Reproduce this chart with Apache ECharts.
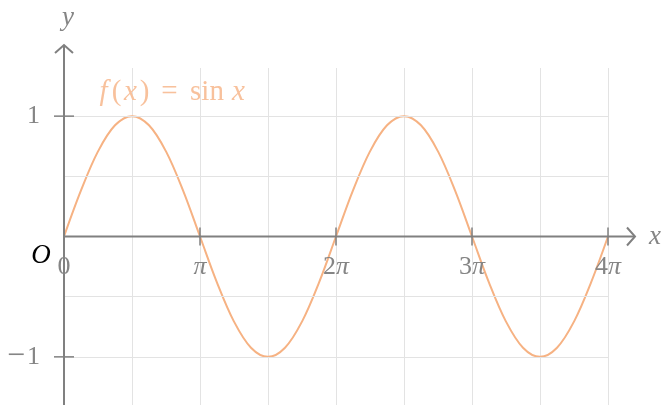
<!DOCTYPE html>
<html><head><meta charset="utf-8">
<script src="https://cdn.jsdelivr.net/npm/echarts@6/dist/echarts.min.js"></script>
<style>html,body{margin:0;padding:0;background:#fff}#c{width:662px;height:405px}</style>
</head><body><div id="c"></div>
<script>
// x in units of pi
const xPi = [0,0.125,0.25,0.375,0.5,0.625,0.75,0.875,1,1.125,1.25,1.375,1.5,1.625,1.75,1.875,2,
  2.125,2.25,2.375,2.5,2.625,2.75,2.875,3,3.125,3.25,3.375,3.5,3.625,3.75,3.875,4];
const yVals = [0,0.383,0.707,0.924,1,0.924,0.707,0.383,0,-0.383,-0.707,-0.924,-1,-0.924,-0.707,-0.383,0,
  0.383,0.707,0.924,1,0.924,0.707,0.383,0,-0.383,-0.707,-0.924,-1,-0.924,-0.707,-0.383,0];
const xTickVals = [1,2,3,4];
const xLabelVals = [0,1,2,3,4];
const xLabelNums = ['0','','2','3','4'];
const yTickVals = [1,-1];
const yTickLabels = ['1','\u22121'];
const yGridVals = [-1,-0.5,0,0.5,1];

const FONT = '"Liberation Serif", "DejaVu Serif", serif';
const AX = '#808080', GRID = '#e3e3e3', LINE = '#f6b283', TXT = '#858585';

const chart = echarts.init(document.getElementById('c'), null, {renderer:'canvas'});
chart.setOption({
  animation:false,
  grid:{left:64,right:54,top:68,bottom:0,containLabel:false},
  xAxis:{type:'value',min:0,max:4,interval:0.5,
    axisLine:{show:false},axisTick:{show:false},axisLabel:{show:false},
    splitLine:{show:true,lineStyle:{color:GRID,width:1}}},
  yAxis:{type:'value',min:-1.4,max:1.4,
    axisLine:{show:false},axisTick:{show:false},axisLabel:{show:false},
    splitLine:{show:false}},
  series:[
    {type:'line',data:[],z:1,silent:true,
      markLine:{silent:true,symbol:'none',label:{show:false},animation:false,
        lineStyle:{color:GRID,width:1,type:'solid'},
        data:yGridVals.map(v=>({yAxis:v}))}},
    {type:'line',z:3,data:xPi.map((x,i)=>[x,yVals[i]]),smooth:0.35,showSymbol:false,
      lineStyle:{color:LINE,width:2},silent:true}
  ]
});

function px(x,y){return chart.convertToPixel({gridIndex:0},[x,y]);}
const o = px(0,0);
const xEnd = px(4,0);
const yTop = px(0,1.4);
const g = [];
const axLine = {stroke:AX,lineWidth:2,fill:null};
// x axis
g.push({type:'line',shape:{x1:o[0],y1:o[1],x2:xEnd[0]+27,y2:o[1]},style:axLine,z:10});
g.push({type:'polyline',shape:{points:[[xEnd[0]+19,o[1]-9],[xEnd[0]+27,o[1]],[xEnd[0]+19,o[1]+9]]},style:axLine,z:10});
// y axis
const yBot = px(0,-1.4);
g.push({type:'line',shape:{x1:o[0],y1:yBot[1],x2:o[0],y2:yTop[1]-23},style:axLine,z:10});
g.push({type:'polyline',shape:{points:[[o[0]-9,yTop[1]-15],[o[0],yTop[1]-23],[o[0]+9,yTop[1]-15]]},style:axLine,z:10});
// ticks
xTickVals.forEach(v=>{const p=px(v,0);
  g.push({type:'line',shape:{x1:p[0],y1:p[1]-9,x2:p[0],y2:p[1]+9},style:{stroke:AX,lineWidth:1.5},z:10});});
yTickVals.forEach(v=>{const p=px(0,v);
  g.push({type:'line',shape:{x1:p[0]-10,y1:p[1],x2:p[0]+10,y2:p[1]},style:{stroke:AX,lineWidth:1.5},z:10});});
// labels
const rich = {n:{fontFamily:FONT,fontSize:26,fill:TXT},p:{fontFamily:FONT,fontSize:26,fontStyle:'italic',fill:TXT},
  m:{fontFamily:FONT,fontSize:32,fill:TXT,width:20,align:'left'}};
xLabelVals.forEach((v,i)=>{const p=px(v,0);
  const t = v===0 ? '{n|0}' : (xLabelNums[i]?'{n|'+xLabelNums[i]+'}':'')+'{p|\u03c0}';
  g.push({type:'text',x:p[0],y:p[1]+31,style:{text:t,rich:rich,align:'center',verticalAlign:'middle'},z:11});});
yTickVals.forEach((v,i)=>{const p=px(0,v);
  const t = yTickLabels[i].charAt(0)==='\u2212' ? '{m|\u2212}{n|'+yTickLabels[i].slice(1)+'}' : '{n|'+yTickLabels[i]+'}';
  g.push({type:'text',x:p[0]-24,y:p[1],style:{text:t,rich:rich,align:'right',verticalAlign:'middle'},z:11});});
g.push({type:'text',x:o[0]-23,y:o[1]+19,style:{text:'O',fontFamily:FONT,fontSize:27,fontStyle:'italic',fill:'#000',align:'center',verticalAlign:'middle'},z:11});
g.push({type:'text',x:xEnd[0]+47,y:o[1],style:{text:'x',fontFamily:FONT,fontSize:27,fontStyle:'italic',fill:TXT,align:'center',verticalAlign:'middle'},z:11});
g.push({type:'text',x:o[0]+4,y:18,style:{text:'y',fontFamily:FONT,fontSize:27,fontStyle:'italic',fill:TXT,align:'center',verticalAlign:'middle'},z:11});
const OR = '#f8c19c';
const fs = 29;
const fr = {
  f:{fontFamily:FONT,fontSize:fs,fontStyle:'italic',fill:OR,width:15,align:'center'},
  l:{fontFamily:FONT,fontSize:fs,fill:OR,width:11,align:'center'},
  x:{fontFamily:FONT,fontSize:fs,fontStyle:'italic',fill:OR,width:17,align:'center'},
  e:{fontFamily:FONT,fontSize:fs,fill:OR,width:39,align:'center'},
  s:{fontFamily:FONT,fontSize:fs,fill:OR,width:36,align:'center'},
  t:{fontFamily:FONT,fontSize:fs,fill:OR,width:5},
};
g.push({type:'text',x:o[0]+32,y:92,style:{text:'{f|f}{l|(}{x|x}{l|)}{e|=}{s|sin}{t| }{x|x}',rich:fr,align:'left',verticalAlign:'middle'},z:11});
chart.setOption({graphic:g});
</script></body></html>
